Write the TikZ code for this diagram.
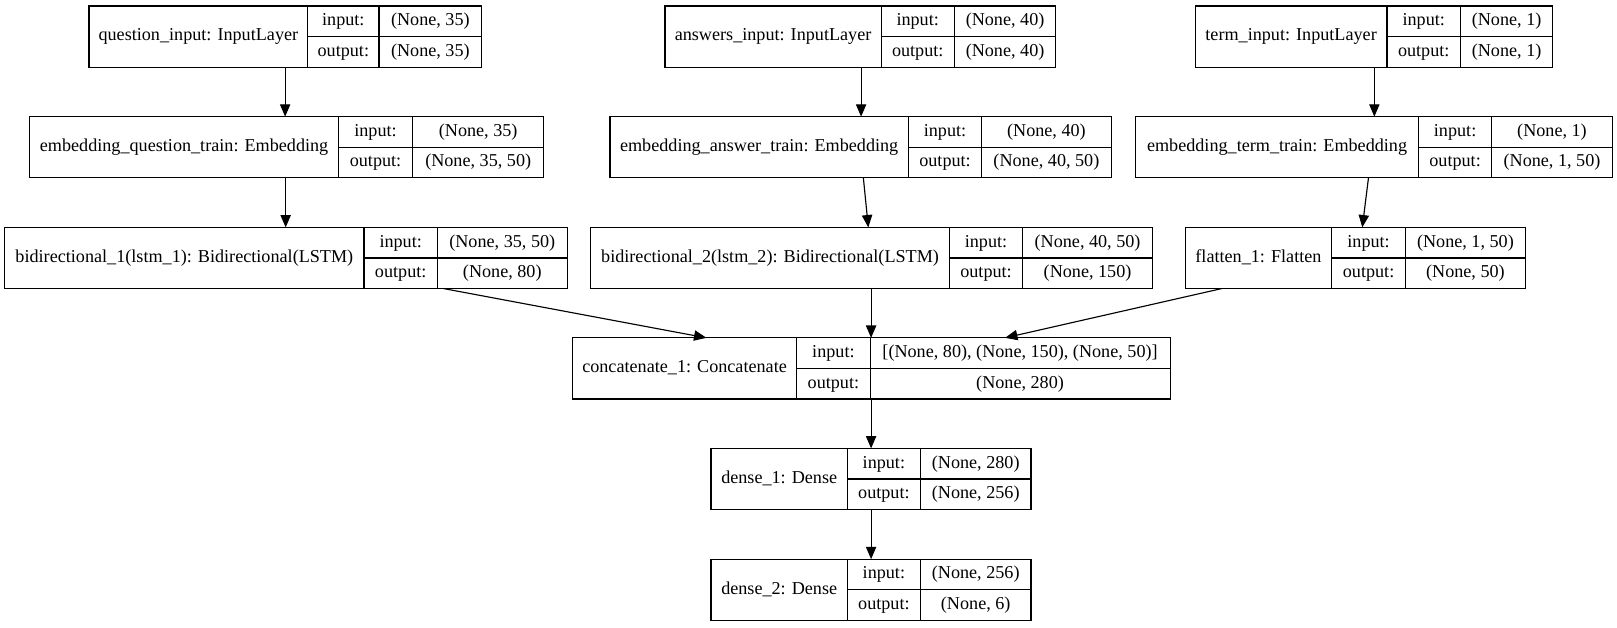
\documentclass[tikz,border=0pt]{standalone}
\usepackage{fontspec}
\setmainfont{Liberation Serif}
\usetikzlibrary{arrows.meta}
\tikzset{
  box/.style={draw=black, line width=1.1pt, inner sep=0pt, outer sep=0pt},
  ln/.style={line width=1.1pt},
  txt/.style={font=\fontsize{17.6}{20}\selectfont, inner sep=0pt, text height=12pt, text depth=3.5pt, anchor=center},
  arr/.style={line width=1.1pt, -{Triangle[length=12pt,width=10pt]}},
}
\newcommand\rec[9]{%
  \pgfmathsetmacro\rW{#5-#2}%
  \pgfmathsetmacro\rCx{(#2+#5)/2}%
  \pgfmathsetmacro\rCy{#6+29.65}%
  \pgfmathsetmacro\rB{#6+59.3}%
  \pgfmathsetmacro\rLx{(#2+#3)/2}%
  \pgfmathsetmacro\rMx{(#3+#4)/2}%
  \pgfmathsetmacro\rVx{(#4+#5)/2}%
  \pgfmathsetmacro\rTy{#6+14.9}%
  \pgfmathsetmacro\rUy{#6+44.4}%
  \node[box, minimum width=\rW pt, minimum height=59.3pt] (#1) at (\rCx,\rCy) {};
  \draw[ln] (#3,#6) -- (#3,\rB);
  \draw[ln] (#4,#6) -- (#4,\rB);
  \draw[ln] (#3,\rCy) -- (#5,\rCy);
  \node[txt] (#1-name) at (\rLx,\rCy) {#7};
  \node[txt] (#1-inl) at (\rMx,\rTy) {input:};
  \node[txt] (#1-outl) at (\rMx,\rUy) {output:};
  \node[txt] (#1-inv) at (\rVx,\rTy) {#8};
  \node[txt] (#1-outv) at (\rVx,\rUy) {#9};
}
\begin{document}
\begin{tikzpicture}[x=1pt,y=-1pt]
\fill[white] (0,0) rectangle (1568,608);
\useasboundingbox (0,0) rectangle (1568,608);

\rec{qin}{86.3}{298.4}{367.5}{467.1}{5.8}{question\_input: InputLayer}{(None, 35)}{(None, 35)}
\rec{ain}{644.9}{854.4}{925.4}{1023.8}{5.8}{answers\_input: InputLayer}{(None, 40)}{(None, 40)}
\rec{tin}{1158.9}{1345}{1416.2}{1505.7}{5.8}{term\_input: InputLayer}{(None, 1)}{(None, 1)}

\rec{eq}{28.7}{328.3}{400}{527.4}{113.1}{embedding\_question\_train: Embedding}{(None, 35)}{(None, 35, 50)}
\rec{ea}{591.5}{880.8}{952}{1077.4}{113.1}{embedding\_answer\_train: Embedding}{(None, 40)}{(None, 40, 50)}
\rec{et}{1101.3}{1375.4}{1446.6}{1563.3}{113.1}{embedding\_term\_train: Embedding}{(None, 1)}{(None, 1, 50)}

\rec{bA}{4.5}{353}{424.1}{550}{220.5}{bidirectional\_1(lstm\_1): Bidirectional(LSTM)}{(None, 35, 50)}{(None, 80)}
\rec{bB}{572.8}{920.6}{991.7}{1117.5}{220.5}{bidirectional\_2(lstm\_2): Bidirectional(LSTM)}{(None, 40, 50)}{(None, 150)}
\rec{fl}{1149.2}{1291.4}{1362.8}{1479.2}{220.5}{flatten\_1: Flatten}{(None, 1, 50)}{(None, 50)}

\rec{cc}{555}{772.6}{843.7}{1134.6}{327.6}{concatenate\_1: Concatenate}{[(None, 80), (None, 150), (None, 50)]}{(None, 280)}
\rec{dA}{689.5}{821.7}{892.5}{999.8}{434.8}{dense\_1: Dense}{(None, 280)}{(None, 256)}
\rec{dB}{689.5}{821.7}{892.5}{999.8}{542.2}{dense\_2: Dense}{(None, 256)}{(None, 6)}

\draw[arr] ([xshift=190.2pt]qin.south west) -- ([xshift=247.8pt]eq.north west);
\draw[arr] ([xshift=190.1pt]ain.south west) -- ([xshift=243.5pt]ea.north west);
\draw[arr] ([xshift=173.8pt]tin.south west) -- ([xshift=231.4pt]et.north west);
\draw[arr] ([xshift=248.3pt]eq.south west) -- ([xshift=272.5pt]bA.north west);
\draw[arr] ([xshift=245.7pt]ea.south west) -- ([xshift=269.2pt]bB.north west);
\draw[arr] ([xshift=225.7pt]et.south west) -- ([xshift=171.8pt]fl.north west);
\draw[arr] ([xshift=425.5pt]bA.south west) -- ([xshift=130pt]cc.north west);
\draw[arr] ([xshift=271.9pt]bB.south west) -- ([xshift=289.7pt]cc.north west);
\draw[arr] ([xshift=35.6pt]fl.south west) -- ([xshift=419.6pt]cc.north west);
\draw[arr] ([xshift=289.7pt]cc.south west) -- ([xshift=155.2pt]dA.north west);
\draw[arr] ([xshift=155.2pt]dA.south west) -- ([xshift=155.2pt]dB.north west);
\end{tikzpicture}
\end{document}
